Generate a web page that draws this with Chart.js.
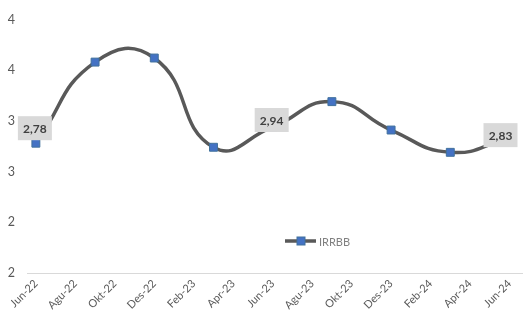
<!DOCTYPE html>
<html>
<head>
<meta charset="utf-8">
<script src="https://cdn.jsdelivr.net/npm/chart.js@4.4.1/dist/chart.umd.min.js"></script>
<style>
  html, body { margin: 0; padding: 0; background: #ffffff; }
  #wrap { width: 523px; height: 320px; position: relative; }
</style>
</head>
<body>
<div id="wrap"><canvas id="chart"></canvas></div>
<script>
// month offset from Jun-22 for every quarterly observation
const months = [0, 3, 6, 9, 12, 15, 18, 21, 24];
const irrbb = [2.78, 3.58, 3.62, 2.74, 2.94, 3.19, 2.91, 2.69, 2.83];
// x tick labels, one every 2 months
const tickLabels = ['Jun-22', 'Agu-22', 'Okt-22', 'Des-22', 'Feb-23', 'Apr-23', 'Jun-23',
                    'Agu-23', 'Okt-23', 'Des-23', 'Feb-24', 'Apr-24', 'Jun-24'];
// points that carry a value label
const labelledPoints = [0, 4, 8];

const FONT = 'Lato, "Open Sans", sans-serif';
const GREY = '#595959';

// bottom axis line runs to the right edge of the canvas
const axisLine = {
  id: 'axisLine',
  beforeDatasetsDraw(chart) {
    const ctx = chart.ctx;
    const a = chart.chartArea;
    ctx.save();
    ctx.strokeStyle = '#d9d9d9';
    ctx.lineWidth = 1;
    ctx.beginPath();
    ctx.moveTo(a.left, Math.round(a.bottom) + 0.5);
    ctx.lineTo(chart.width, Math.round(a.bottom) + 0.5);
    ctx.stroke();
    ctx.restore();
  }
};

// draws the grey value boxes like excel does
const valueLabels = {
  id: 'valueLabels',
  afterDatasetsDraw(chart, args, opts) {
    const ctx = chart.ctx;
    const meta = chart.getDatasetMeta(0);
    ctx.save();
    ctx.font = 'bold 12px ' + FONT;
    ctx.textAlign = 'center';
    ctx.textBaseline = 'middle';
    labelledPoints.forEach((i, k) => {
      const pt = meta.data[i];
      const off = opts.offsets[k];
      const txt = irrbb[i].toFixed(2).replace('.', ',');
      const w = 34, h = 24;
      let cx = pt.x + off[0];
      const cy = pt.y + off[1];
      if (cx + w / 2 > chart.width + 8) cx = chart.width + 8 - w / 2;
      ctx.fillStyle = '#d9d9d9';
      ctx.fillRect(cx - w / 2, cy - h / 2, w, h);
      ctx.fillStyle = '#404040';
      ctx.fillText(txt, cx, cy + 1);
    });
    ctx.restore();
  }
};

// legend sits inside the plot area
const insideLegend = {
  id: 'insideLegend',
  afterDraw(chart) {
    const ctx = chart.ctx;
    const x = 285, y = 241;
    ctx.save();
    ctx.strokeStyle = GREY;
    ctx.lineWidth = 3.5;
    ctx.beginPath();
    ctx.moveTo(x, y);
    ctx.lineTo(x + 31, y);
    ctx.stroke();
    ctx.fillStyle = '#4472c4';
    ctx.strokeStyle = '#41719c';
    ctx.lineWidth = 1;
    ctx.fillRect(x + 12, y - 4, 8, 8);
    ctx.strokeRect(x + 12, y - 4, 8, 8);
    ctx.fillStyle = '#808080';
    ctx.font = '11px ' + FONT;
    ctx.textBaseline = 'middle';
    ctx.fillText('IRRBB', x + 34, y + 1);
    ctx.restore();
  }
};

const ctx = document.getElementById('chart').getContext('2d');
new Chart(ctx, {
  type: 'line',
  data: {
    datasets: [{
      label: 'IRRBB',
      data: months.map((m, i) => ({ x: m, y: irrbb[i] })),
      borderColor: GREY,
      borderWidth: 3.5,
      tension: 0.5,
      pointStyle: 'rect',
      pointRadius: 5.6,
      pointBackgroundColor: '#4472c4',
      pointBorderColor: '#41719c',
      pointBorderWidth: 1,
      clip: false
    }]
  },
  options: {
    responsive: true,
    maintainAspectRatio: false,
    animation: false,
    layout: { padding: { top: 14, right: 0, left: 0, bottom: 0 } },
    plugins: {
      legend: { display: false },
      tooltip: { enabled: false },
      valueLabels: { offsets: [[-1, -15], [-1, -7], [-9, -3]] }
    },
    scales: {
      x: {
        type: 'linear',
        min: -0.45,
        max: 24.35,
        afterBuildTicks(scale) {
          scale.ticks = tickLabels.map((t, i) => ({ value: i * 2 }));
        },
        afterFit(scale) {
          scale.height = 47;
          // don't let the rotated labels squeeze the plot area
          scale.paddingLeft = 0;
          scale.paddingRight = 0;
        },
        grid: { display: false, drawTicks: false },
        border: { display: false },
        ticks: {
          autoSkip: false,
          maxRotation: 45,
          minRotation: 45,
          padding: 4,
          color: GREY,
          font: { family: FONT, size: 11 },
          callback: (v) => tickLabels[Math.round(v / 2)]
        }
      },
      y: {
        min: 1.5,
        max: 4.0,
        afterFit(scale) { scale.width = 27; },
        grid: { display: false, drawTicks: false },
        border: { display: false },
        ticks: {
          stepSize: 0.5,
          padding: 12,
          color: GREY,
          font: { family: FONT, size: 12.5 },
          callback: (v) => Math.round(v)
        }
      }
    }
  },
  plugins: [axisLine, valueLabels, insideLegend]
});
</script>
</body>
</html>
